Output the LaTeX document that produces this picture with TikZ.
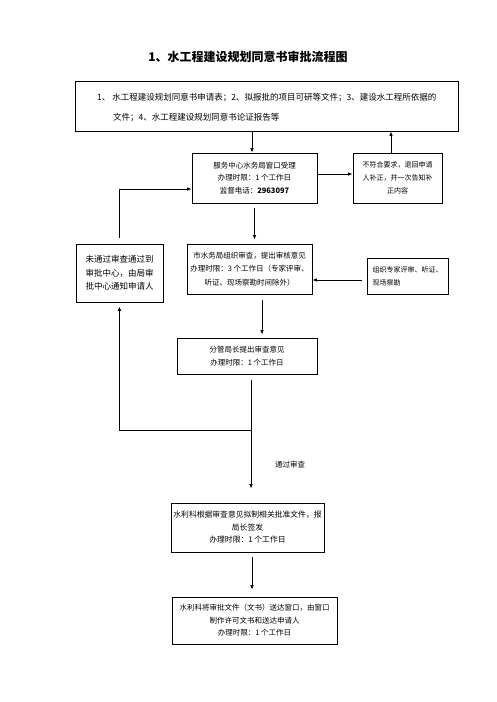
\documentclass[tikz,border=0pt]{standalone}
\usepackage{fontspec}
\setmainfont{Noto Sans CJK SC}
\usetikzlibrary{arrows.meta,calc}
\begin{document}
\begin{tikzpicture}[x=1pt,y=-1pt,
  box/.style={draw,line width=0.9pt,inner sep=0pt,align=center},
  arr/.style={-{Latex[length=4.5pt,width=3.6pt]},line width=0.8pt},
  ln/.style={line width=0.8pt}]
\useasboundingbox (0,0) rectangle (496,702);
\node[font=\fontsize{12}{14}\selectfont\bfseries] (title) at (248,57) {1、水工程建设规划同意书审批流程图};
\node[box,minimum width=383pt,minimum height=50pt] (top) at (266.5,106) {};
\node[anchor=west,inner sep=0pt,font=\fontsize{8.5}{10}\selectfont] (t1) at (97,98) {1、 水工程建设规划同意书申请表；2、拟报批的项目可研等文件；3、建设水工程所依据的};
\node[anchor=west,inner sep=0pt,font=\fontsize{8.5}{10}\selectfont] (t2) at (113,118) {文件；4、水工程建设规划同意书论证报告等};

\node[box,minimum width=125pt,minimum height=50pt,font=\fontsize{7.5}{12.5}\selectfont] (svc) at (254.5,178) {服务中心水务局窗口受理\\办理时限：1 个工作日\\监督电话：\textbf{2963097}};
\node[box,minimum width=89pt,minimum height=50pt,font=\fontsize{7}{13}\selectfont] (rej) at (397.5,178) {不符合要求，退回申请\\人补正，并一次告知补\\正内容};
\node[box,minimum width=87pt,minimum height=58pt,font=\fontsize{8.5}{13.5}\selectfont] (fail) at (119.5,273) {未通过审查通过到\\审批中心，由局审\\批中心通知申请人};
\node[box,minimum width=125pt,minimum height=50pt,font=\fontsize{7.5}{13.5}\selectfont] (mid) at (249.5,269) {市水务局组织审查，提出审核意见\\办理时限：3 个工作日（专家评审、\\听证、现场察勘时间除外）};
\node[box,minimum width=81pt,minimum height=36pt,align=left,font=\fontsize{7}{13}\selectfont] (exp) at (407.5,276) {组织专家评审、听证、\\现场察勘};
\node[box,minimum width=140pt,minimum height=36pt,font=\fontsize{7.5}{12.5}\selectfont] (fg) at (247,356) {分管局长提出审查意见\\办理时限：1 个工作日};
\node[box,minimum width=153pt,minimum height=49pt,font=\fontsize{7.8}{12.5}\selectfont] (slk) at (247.5,527.5) {水利科根据审查意见拟制相关批准文件，报\\局长签发\\办理时限：1 个工作日};
\node[box,minimum width=165pt,minimum height=47pt,font=\fontsize{7.5}{12.5}\selectfont] (last) at (254.5,620.5) {水利科将审批文件（文书）送达窗口，由窗口\\制作许可文书和送达申请人\\办理时限：1 个工作日};
\node[anchor=west,inner sep=0pt,font=\fontsize{7.5}{9}\selectfont] (pass) at (275,465) {通过审查};

\coordinate (a1) at ([xshift=-2.5pt]svc.north);
\draw[arr] (a1 |- top.south) -- (a1);
\coordinate (a2) at ([xshift=-6.5pt]rej.north);
\draw[arr] (a2) -- (a2 |- top.south);
\coordinate (a3) at ([yshift=4pt]svc.east);
\draw[arr] (a3) -- (a3 -| rej.west);
\draw[arr,shorten <=5pt,shorten >=4pt] (svc.south) -- (svc.south |- mid.north);
\coordinate (a5) at ([yshift=-11pt]svc.west);
\draw[arr,shorten <=6pt] (fail.north) -- (fail.north |- a5) -- (a5);
\coordinate (a6) at ([yshift=-4pt]exp.west);
\draw[arr,shorten <=5pt] (a6) -- (a6 -| mid.east);
\coordinate (a7) at ([xshift=12.5pt]mid.south);
\draw[arr,shorten <=6pt,shorten >=3pt] (a7) -- (a7 |- fg.north);
\coordinate (j) at (251,430);
\draw[arr,shorten <=6pt,shorten >=14pt] (fg.south -| j) -- (slk.north -| j);
\draw[arr,shorten >=4pt] (j) -- (j -| fail.south) -- (fail.south);
\coordinate (a8) at ([xshift=4.5pt]slk.south);
\draw[arr,shorten <=5pt,shorten >=7pt] (a8) -- (a8 |- last.north);
\end{tikzpicture}
\end{document}
